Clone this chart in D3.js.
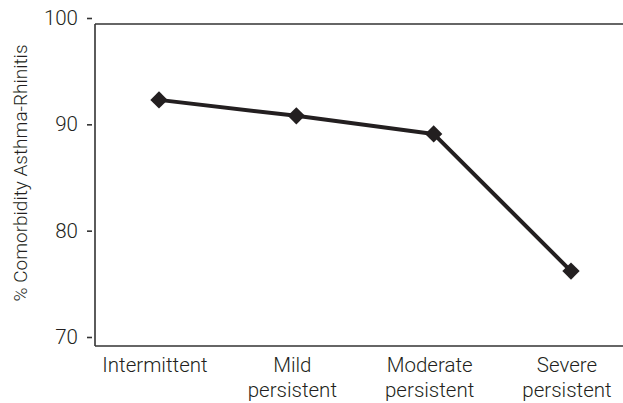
<!DOCTYPE html>
<html><head><meta charset="utf-8">
<script src="https://cdn.jsdelivr.net/npm/d3@7"></script>
<style>
body{margin:0;background:#fff;}
text{font-family:Roboto,"Liberation Sans Narrow",sans-serif;font-weight:300;fill:#231f20;}
</style></head>
<body>
<svg id="c" width="623" height="403"></svg>
<script>
const categories = [["Intermittent"], ["Mild", "persistent"], ["Moderate", "persistent"], ["Severe", "persistent"]];
const values = [92.3, 90.8, 89.1, 76.2];
const yTicks = [70, 80, 90, 100];
const yLabel = "% Comorbidity Asthma-Rhinitis";

const svg = d3.select("#c");
const ink = "#231f20";
const x = d3.scalePoint().domain(d3.range(categories.length)).range([159, 571]);
const y = d3.scaleLinear().domain([70, 100]).range([337, 18]);

// frame: left axis, top line, bottom line
svg.append("line").attr("x1", 95).attr("x2", 95).attr("y1", 24).attr("y2", 346).attr("stroke", "#333").attr("stroke-width", 1.6);
svg.append("line").attr("x1", 95).attr("x2", 623).attr("y1", 24).attr("y2", 24).attr("stroke", "#333").attr("stroke-width", 1.6);
svg.append("line").attr("x1", 95).attr("x2", 623).attr("y1", 346).attr("y2", 346).attr("stroke", "#333").attr("stroke-width", 1.6);

// y axis ticks (detached)
const yAxis = d3.axisLeft(y).tickValues(yTicks).tickSize(5).tickPadding(9);
const ga = svg.append("g").attr("transform", "translate(92,0)").call(yAxis);
ga.select(".domain").remove();
ga.selectAll(".tick line").attr("stroke", "#333").attr("stroke-width", 1.6);
ga.selectAll(".tick text").style("font-size", "20.5px").attr("fill", ink);

// x labels
const gx = svg.append("g");
categories.forEach((lines, i) => {
  const t = gx.append("text").attr("x", x(i) - 4).attr("y", 372).attr("text-anchor", "middle").style("font-size", "20.5px");
  lines.forEach((l, j) => t.append("tspan").attr("x", x(i) - 4).attr("dy", j === 0 ? 0 : 25).text(l));
});

// y label
svg.append("text").attr("transform", "translate(27,173) rotate(-90)").attr("text-anchor", "middle").style("font-size", "19px").text(yLabel);

// line
const line = d3.line().x((d, i) => x(i)).y(d => y(d));
svg.append("path").datum(values).attr("d", line).attr("fill", "none").attr("stroke", ink).attr("stroke-width", 4).attr("stroke-linejoin", "round");

// markers
svg.selectAll("path.m").data(values).join("path").attr("class", "m")
  .attr("d", d3.symbol().type(d3.symbolSquare).size(150))
  .attr("transform", (d, i) => `translate(${x(i)},${y(d)}) rotate(45)`)
  .attr("fill", ink);
</script>
</body></html>
